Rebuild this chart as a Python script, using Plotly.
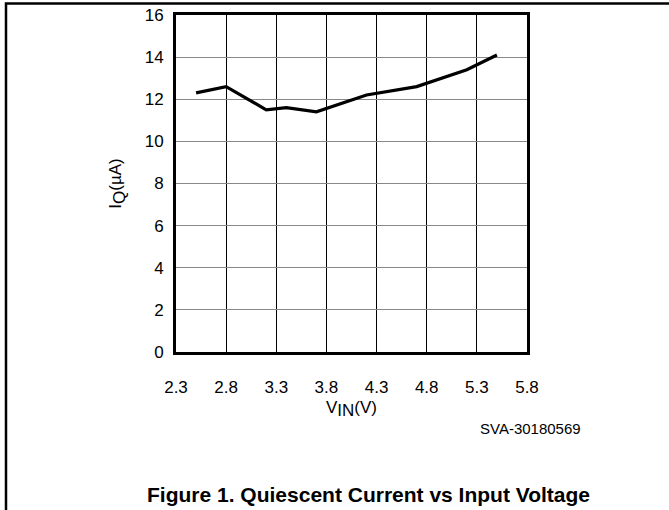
import plotly.graph_objects as go

# Data
vin = [2.5, 2.8, 3.2, 3.4, 3.7, 4.2, 4.7, 5.2, 5.5]
iq = [12.3, 12.6, 11.5, 11.6, 11.4, 12.2, 12.6, 13.4, 14.1]
x_ticks = [2.3, 2.8, 3.3, 3.8, 4.3, 4.8, 5.3, 5.8]
x_tick_labels = ["2.3", "2.8", "3.3", "3.8", "4.3", "4.8", "5.3", "5.8"]
y_ticks = [0, 2, 4, 6, 8, 10, 12, 14, 16]

W, H = 669, 510
L, R, T, B = 176, 527, 15, 352  # plot area in pixels


def px(x):
    return (x - L) / (R - L)


def py(y):
    return (B - y) / (B - T)


FONT = "Liberation Sans, Arial, sans-serif"
SUB = "<sub><span style='font-size:17px'>{}</span></sub>"

fig = go.Figure()
fig.add_trace(go.Scatter(x=vin, y=iq, mode="lines",
                         line=dict(color="black", width=3.2), showlegend=False,
                         hoverinfo="skip"))

fig.update_layout(
    width=W, height=H,
    margin=dict(l=L, r=W - R, t=T, b=H - B),
    paper_bgcolor="white", plot_bgcolor="white",
    font=dict(family=FONT, size=17, color="black"),
    xaxis=dict(range=[2.3, 5.8], tickvals=x_ticks, ticktext=x_tick_labels,
               showgrid=True, gridcolor="black", gridwidth=1,
               showline=True, linecolor="black", linewidth=3, mirror=True,
               ticks="", ticklabelstandoff=18, zeroline=False, automargin=False,
               tickfont=dict(size=17),
               title=dict(text="V" + SUB.format("IN") + "(V)",
                          font=dict(size=17), standoff=5)),
    yaxis=dict(range=[0, 16], tickvals=y_ticks,
               showgrid=True, gridcolor="#888888", gridwidth=1,
               showline=True, linecolor="black", linewidth=3, mirror=True,
               ticks="", ticklabelstandoff=6, zeroline=False, automargin=False,
               tickfont=dict(size=17),
               title=dict(text="I" + SUB.format("Q") + "(µA)",
                          font=dict(size=17), standoff=19)),
    shapes=[
        dict(type="rect", xref="paper", yref="paper",
             x0=px(6), y0=py(3.5), x1=px(720), y1=py(560),
             line=dict(color="black", width=2.5), fillcolor="rgba(0,0,0,0)",
             layer="above"),
    ],
    annotations=[
        dict(text="SVA-30180569", xref="paper", yref="paper",
             x=px(530), y=py(428), xanchor="center", yanchor="middle",
             showarrow=False, font=dict(size=15, family=FONT)),
        dict(text="<b>Figure 1. Quiescent Current vs Input Voltage</b>",
             xref="paper", yref="paper",
             x=px(368), y=py(495), xanchor="center", yanchor="middle",
             showarrow=False, font=dict(size=21, family=FONT)),
    ],
)

fig.write_html(
    "out.html", config={"displayModeBar": False},
    post_script="document.documentElement.style.margin='0px';"
                "document.body.style.margin='0px';"
                "document.body.style.overflow='hidden';")
